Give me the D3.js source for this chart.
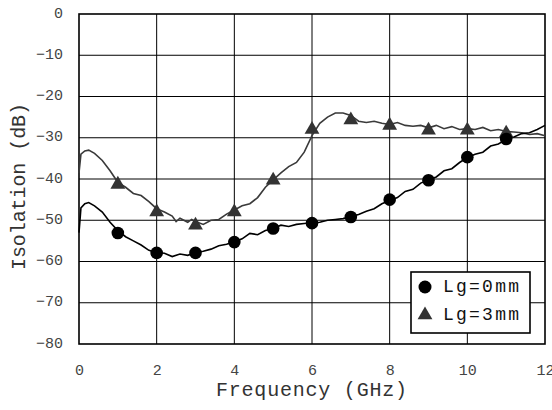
<!DOCTYPE html>
<html>
  <head>
    <meta charset="utf-8">
    <title>Isolation vs frequency</title>
    <script src="https://d3js.org/d3.v7.min.js"></script>
    <style>
      body { margin: 0; background: #fff; }
      text { font-family: "Liberation Mono", "DejaVu Sans Mono", monospace; }
    </style>
  </head>
  <body>
    <svg id="chart" width="552" height="410"></svg>
    <script>
      // measured curves (GHz, dB)
      var freq0 = [0, 0.05, 0.15, 0.25, 0.4, 0.6, 0.8, 1.0, 1.2, 1.4, 1.6, 1.8, 2.0, 2.2, 2.4, 2.6, 2.8, 3.0, 3.2, 3.4, 3.6, 3.8, 4.0, 4.2, 4.4, 4.6, 4.8, 5.0, 5.2, 5.4, 5.6, 5.8, 6.0, 6.2, 6.4, 6.6, 6.8, 7.0, 7.2, 7.4, 7.6, 7.8, 8.0, 8.2, 8.4, 8.6, 8.8, 9.0, 9.2, 9.4, 9.6, 9.8, 10.0, 10.2, 10.4, 10.6, 10.8, 11.0, 11.2, 11.4, 11.6, 11.8, 12];
      var iso0 = [-53, -47, -46, -45.7, -46.5, -48, -50.5, -52.5, -54, -55, -56, -57.3, -57.8, -58, -58.8, -58.2, -58.5, -57.8, -57.5, -57, -56.2, -55.8, -55.2, -54.5, -53.2, -53.5, -52.5, -52, -51.2, -51.5, -51, -50.8, -50.6, -50.5, -50, -49.8, -49.6, -49.1, -48.6, -47.8, -47.2, -46, -45.2, -44.5, -43, -42.5, -41, -40.2, -39.5, -38, -37.5, -36, -34.8, -34, -33.5, -32, -31.5, -30.4, -29.8, -29, -28.8, -28, -27];
      var freq3 = [0, 0.05, 0.15, 0.25, 0.4, 0.6, 0.8, 1.0, 1.2, 1.4, 1.6, 1.8, 2.0, 2.2, 2.4, 2.5, 2.6, 2.8, 2.9, 3.0, 3.2, 3.4, 3.6, 3.8, 4.0, 4.2, 4.4, 4.6, 4.8, 5.0, 5.2, 5.4, 5.6, 5.8, 6.0, 6.2, 6.4, 6.6, 6.8, 7.0, 7.2, 7.4, 7.6, 7.8, 8.0, 8.2, 8.4, 8.6, 8.8, 9.0, 9.2, 9.4, 9.6, 9.8, 10.0, 10.2, 10.4, 10.6, 10.8, 11.0, 11.2, 11.4, 11.6, 11.8, 12];
      var iso3 = [-38.5, -34, -33.2, -33, -33.8, -35.5, -38, -40.8, -42, -43.5, -44, -45.5, -47.2, -48, -49, -50.3, -49.5, -50.5, -49.8, -50.3, -51, -50, -49.8, -48.5, -47.5, -46.5, -46, -44.5, -42, -40.2, -38.5, -37, -36, -33.5, -29.5, -26.5, -25, -24, -24, -24.6, -26, -26.3, -26, -26.5, -26.8, -26.3, -27, -27.2, -27, -27.6, -27, -27.8, -27.3, -28, -27.8, -28, -27.5, -28.3, -28, -28.5, -28.6, -28.8, -29.2, -29, -29.5];
      // marker positions
      var markFreq = [1, 2, 3, 4, 5, 6, 7, 8, 9, 10, 11];
      var mark0 = [-53.1, -57.9, -57.9, -55.3, -52, -50.7, -49.2, -45, -40.3, -34.7, -30.3];
      var mark3 = [-41.3, -48, -51.2, -48, -40.3, -28, -25.7, -27, -28.2, -28.2, -28.9];
      // axes
      var xTicks = [0, 2, 4, 6, 8, 10, 12];
      var yTicks = [0, -10, -20, -30, -40, -50, -60, -70, -80];
      var seriesNames = ["Lg=0mm", "Lg=3mm"];

      var svg = d3.select("#chart");
      var plotLeft = 79, plotRight = 545, plotTop = 14, plotBottom = 344;

      var x = d3.scaleLinear().domain([0, 12]).range([plotLeft, plotRight]);
      var y = d3.scaleLinear().domain([-80, 0]).range([plotBottom, plotTop]);

      // grid
      svg.append("g")
        .selectAll("line")
          .data(xTicks.slice(1, -1))
        .enter().append("line")
          .attr("x1", function(d) { return x(d); })
          .attr("x2", function(d) { return x(d); })
          .attr("y1", plotTop)
          .attr("y2", plotBottom)
          .attr("stroke", "#000")
          .attr("stroke-width", 1);
      svg.append("g")
        .selectAll("line")
          .data(yTicks.slice(1, -1))
        .enter().append("line")
          .attr("x1", plotLeft)
          .attr("x2", plotRight)
          .attr("y1", function(d) { return y(d); })
          .attr("y2", function(d) { return y(d); })
          .attr("stroke", "#000")
          .attr("stroke-width", 1);

      // tick labels
      var xAxis = svg.append("g")
        .attr("transform", "translate(0," + plotBottom + ")")
        .call(d3.axisBottom(x).tickValues(xTicks).tickSize(0).tickPadding(20));
      xAxis.select(".domain").remove();
      xAxis.selectAll("text")
        .style("font-size", "15px")
        .attr("fill", "#444");
      var yAxis = svg.append("g")
        .attr("transform", "translate(" + plotLeft + ",0)")
        .call(d3.axisLeft(y).tickValues(yTicks).tickSize(0).tickPadding(16)
          .tickFormat(function(d) { return d === 0 ? "0" : "\u2212" + Math.abs(d); }));
      yAxis.select(".domain").remove();
      yAxis.selectAll("text")
        .style("font-size", "15px")
        .attr("dy", "0.2em")
        .attr("fill", "#444");

      // frame
      svg.append("rect")
        .attr("x", plotLeft)
        .attr("y", plotTop)
        .attr("width", plotRight - plotLeft)
        .attr("height", plotBottom - plotTop)
        .attr("fill", "none")
        .attr("stroke", "#000")
        .attr("stroke-width", 1.6);

      // curves
      var line = d3.line()
        .x(function(d) { return x(d[0]); })
        .y(function(d) { return y(d[1]); });
      svg.append("path")
        .datum(d3.zip(freq3, iso3))
        .attr("d", line)
        .attr("fill", "none")
        .attr("stroke", "#3a3a3a")
        .attr("stroke-width", 1.6);
      svg.append("path")
        .datum(d3.zip(freq0, iso0))
        .attr("d", line)
        .attr("fill", "none")
        .attr("stroke", "#000")
        .attr("stroke-width", 1.6);

      var tri = d3.symbol().type(d3.symbolTriangle).size(95);
      svg.append("g")
        .selectAll("path")
          .data(d3.zip(markFreq, mark3))
        .enter().append("path")
          .attr("d", tri)
          .attr("transform", function(d) { return "translate(" + x(d[0]) + "," + y(d[1]) + ")"; })
          .attr("fill", "#333");
      svg.append("g")
        .selectAll("circle")
          .data(d3.zip(markFreq, mark0))
        .enter().append("circle")
          .attr("cx", function(d) { return x(d[0]); })
          .attr("cy", function(d) { return y(d[1]); })
          .attr("r", 6.3)
          .attr("fill", "#000");

      // axis titles
      svg.append("text")
        .attr("x", 216)
        .attr("y", 396)
        .attr("textLength", 191)
        .style("font-size", "20px")
        .attr("fill", "#333")
        .text("Frequency (GHz)");
      svg.append("text")
        .attr("transform", "translate(25,270) rotate(-90)")
        .attr("textLength", 167)
        .style("font-size", "20px")
        .attr("fill", "#333")
        .text("Isolation (dB)");

      // legend
      var legend = svg.append("g");
      legend.append("rect")
        .attr("x", 411)
        .attr("y", 272)
        .attr("width", 119)
        .attr("height", 61)
        .attr("fill", "#fff")
        .attr("stroke", "#000")
        .attr("stroke-width", 1.6);
      legend.append("circle")
        .attr("cx", 425)
        .attr("cy", 287)
        .attr("r", 6.5)
        .attr("fill", "#000");
      legend.append("path")
        .attr("d", tri)
        .attr("transform", "translate(425,315)")
        .attr("fill", "#333");
      legend.selectAll(".legText")
          .data(seriesNames)
        .enter().append("text")
          .classed("legText", true)
          .attr("x", 443)
          .attr("y", function(d, i) { return 292 + i * 28; })
          .attr("textLength", 76)
          .style("font-size", "18px")
          .attr("fill", "#111")
          .text(function(d) { return d; });
    </script>
  </body>
</html>
